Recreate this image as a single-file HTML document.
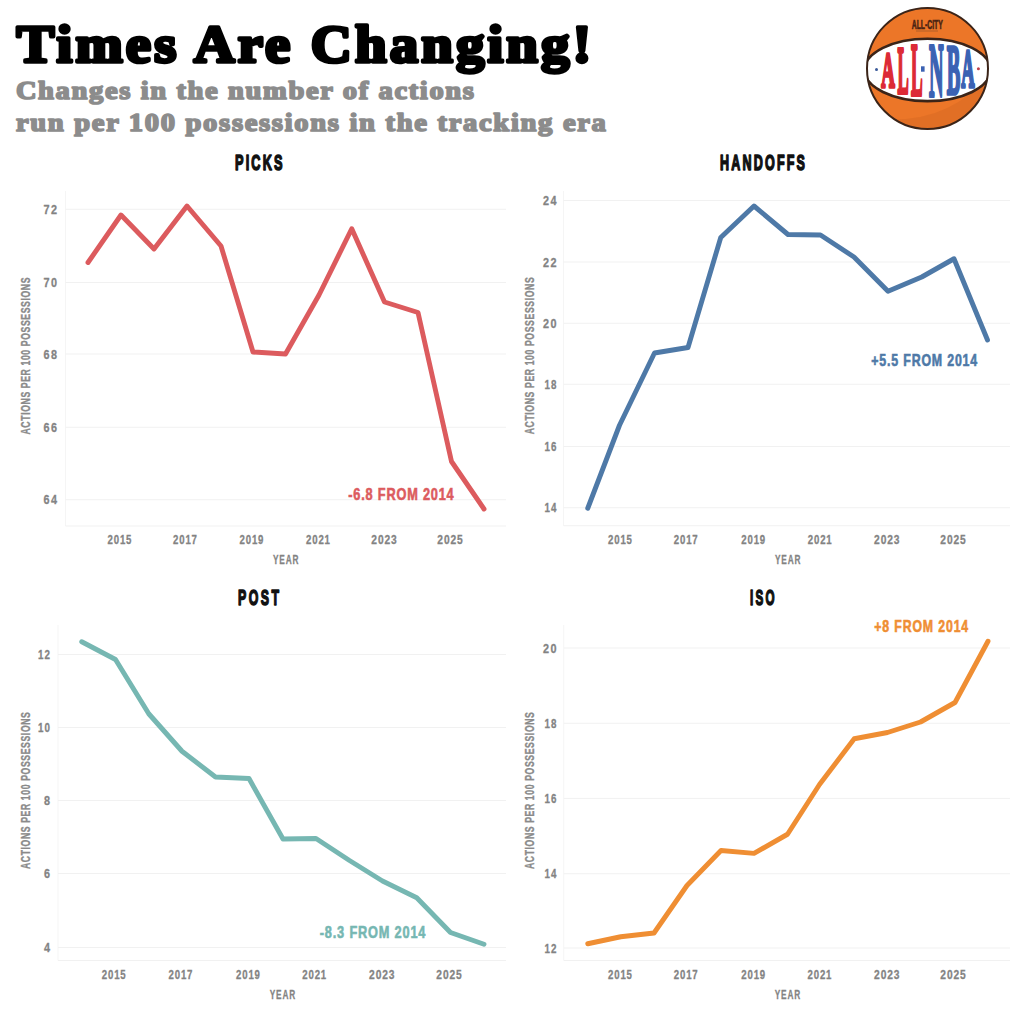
<!DOCTYPE html>
<html><head><meta charset="utf-8">
<style>
html,body{margin:0;padding:0;background:#fff;}
svg{display:block;}
.tk{font-family:"Liberation Sans", sans-serif;font-weight:bold;font-size:13.2px;fill:#838383;stroke:#838383;stroke-width:0.3px;}
.yt{font-family:"Liberation Sans", sans-serif;font-weight:bold;font-size:13.2px;fill:#8a8a8a;stroke:#8a8a8a;stroke-width:0.35px;}
.ct{font-family:"Liberation Sans", sans-serif;font-weight:bold;font-size:22.5px;fill:#111;stroke:#111;stroke-width:1.6px;stroke-linejoin:round;}
.an{font-family:"Liberation Sans", sans-serif;font-weight:bold;font-size:16.5px;stroke-width:0.6px;}
.title{font-family:"Liberation Serif", serif;font-weight:bold;}
</style></head>
<body>
<svg width="1024" height="1024" viewBox="0 0 1024 1024">
<rect width="1024" height="1024" fill="#fff"/>
<text transform="translate(16.5 61.6) scale(1.08 1)" x="0" y="0" textLength="532.41" lengthAdjust="spacing" class="title" font-size="52.5" fill="#000" stroke="#000" stroke-width="3.6" stroke-linejoin="round">Times Are Changing!</text>
<text transform="translate(15.9 98.6) scale(1.12 1)" x="0" y="0" textLength="408.93" lengthAdjust="spacing" class="title" font-size="25.5" fill="#8c8c8c" stroke="#8c8c8c" stroke-width="1.7" stroke-linejoin="round">Changes in the number of actions</text>
<text transform="translate(15.9 130.8) scale(1.12 1)" x="0" y="0" textLength="526.79" lengthAdjust="spacing" class="title" font-size="25.5" fill="#8c8c8c" stroke="#8c8c8c" stroke-width="1.7" stroke-linejoin="round">run per 100 possessions in the tracking era</text>

<g>
  <defs><clipPath id="ball"><circle cx="927.5" cy="68.4" r="60.5"/></clipPath></defs>
  <circle cx="927.5" cy="68.4" r="60.5" fill="#ec7628"/>
  <g clip-path="url(#ball)">
    <path d="M870 118 Q950 128 992 70 L992 135 L870 135 Z" fill="#d96a22" opacity="0.55"/>
    <ellipse cx="927.5" cy="69.9" rx="63" ry="31.2" fill="#ffffff" stroke="#3b2418" stroke-width="2.6"/>
  </g>
  <circle cx="927.5" cy="68.4" r="60.5" fill="none" stroke="#3b2418" stroke-width="2"/>
  <text x="927.3" y="28.7" text-anchor="middle" textLength="31" lengthAdjust="spacingAndGlyphs" font-family="Liberation Sans, sans-serif" font-weight="bold" font-size="12" fill="#4a2414" stroke="#4a2414" stroke-width="0.6">ALL-CITY</text>
  <rect x="916" y="30.5" width="22" height="1" fill="#7a4a2a" opacity="0.5"/>
  <text transform="translate(881.31 87.30) scale(0.1889 0.5000)" x="0" y="0" font-family="Liberation Serif, serif" font-weight="bold" font-size="100" fill="#dc2a36" stroke="#dc2a36" stroke-width="6.97" stroke-linejoin="round">A</text>
<text transform="translate(897.61 92.60) scale(0.1680 0.6687)" x="0" y="0" font-family="Liberation Serif, serif" font-weight="bold" font-size="100" fill="#dc2a36" stroke="#dc2a36" stroke-width="5.74" stroke-linejoin="round">L</text>
<text transform="translate(910.90 95.00) scale(0.1746 0.7405)" x="0" y="0" font-family="Liberation Serif, serif" font-weight="bold" font-size="100" fill="#dc2a36" stroke="#dc2a36" stroke-width="5.25" stroke-linejoin="round">L</text>
<text transform="translate(929.02 95.70) scale(0.2017 0.7618)" x="0" y="0" font-family="Liberation Serif, serif" font-weight="bold" font-size="100" fill="#3b62b3" stroke="#3b62b3" stroke-width="4.98" stroke-linejoin="round">N</text>
<text transform="translate(946.86 94.00) scale(0.2029 0.7160)" x="0" y="0" font-family="Liberation Serif, serif" font-weight="bold" font-size="100" fill="#3b62b3" stroke="#3b62b3" stroke-width="5.22" stroke-linejoin="round">B</text>
<text transform="translate(961.32 87.30) scale(0.1847 0.5409)" x="0" y="0" font-family="Liberation Serif, serif" font-weight="bold" font-size="100" fill="#3b62b3" stroke="#3b62b3" stroke-width="6.62" stroke-linejoin="round">A</text>
  <rect x="921" y="66.3" width="3.6" height="5.4" fill="#3b62b3"/>
  <circle cx="876.5" cy="69.5" r="1.5" fill="#3b5a9a"/>
  <circle cx="978.4" cy="68.8" r="1.5" fill="#c0404a"/>
</g>

<line x1="65.5" y1="191" x2="65.5" y2="526" stroke="#f5f5f5" stroke-width="1"/>
<line x1="65.5" y1="526" x2="506" y2="526" stroke="#f1f1f1" stroke-width="1"/>
<line x1="65.5" y1="209.25" x2="506" y2="209.25" stroke="#f1f1f1" stroke-width="1"/>
<text transform="translate(57.00 213.75) scale(0.8215 1)" x="0" y="0" text-anchor="end" textLength="16.31" lengthAdjust="spacing" class="tk" >72</text>
<line x1="65.5" y1="282.5" x2="506" y2="282.5" stroke="#f1f1f1" stroke-width="1"/>
<text transform="translate(57.00 287.00) scale(0.8215 1)" x="0" y="0" text-anchor="end" textLength="16.31" lengthAdjust="spacing" class="tk" >70</text>
<line x1="65.5" y1="354" x2="506" y2="354" stroke="#f1f1f1" stroke-width="1"/>
<text transform="translate(57.00 358.50) scale(0.8215 1)" x="0" y="0" text-anchor="end" textLength="16.31" lengthAdjust="spacing" class="tk" >68</text>
<line x1="65.5" y1="427.25" x2="506" y2="427.25" stroke="#f1f1f1" stroke-width="1"/>
<text transform="translate(57.00 431.75) scale(0.8215 1)" x="0" y="0" text-anchor="end" textLength="16.31" lengthAdjust="spacing" class="tk" >66</text>
<line x1="65.5" y1="499.75" x2="506" y2="499.75" stroke="#f1f1f1" stroke-width="1"/>
<text transform="translate(57.00 504.25) scale(0.8215 1)" x="0" y="0" text-anchor="end" textLength="16.31" lengthAdjust="spacing" class="tk" >64</text>
<text transform="translate(119.50 543.90) scale(0.7295 1)" x="0" y="0" text-anchor="middle" textLength="32.62" lengthAdjust="spacing" class="tk" >2015</text>
<text transform="translate(185.00 543.90) scale(0.7295 1)" x="0" y="0" text-anchor="middle" textLength="32.62" lengthAdjust="spacing" class="tk" >2017</text>
<text transform="translate(251.50 543.90) scale(0.7295 1)" x="0" y="0" text-anchor="middle" textLength="32.62" lengthAdjust="spacing" class="tk" >2019</text>
<text transform="translate(318.00 543.90) scale(0.7295 1)" x="0" y="0" text-anchor="middle" textLength="32.62" lengthAdjust="spacing" class="tk" >2021</text>
<text transform="translate(384.00 543.90) scale(0.7755 1)" x="0" y="0" text-anchor="middle" textLength="32.62" lengthAdjust="spacing" class="tk" >2023</text>
<text transform="translate(450.00 543.90) scale(0.7755 1)" x="0" y="0" text-anchor="middle" textLength="32.62" lengthAdjust="spacing" class="tk" >2025</text>
<text transform="translate(285.75 564.40) scale(0.6258 1)" x="0" y="0" text-anchor="middle" textLength="40.75" lengthAdjust="spacing" class="tk" >YEAR</text>
<text transform="translate(29.6 356) rotate(-90) scale(0.6574 1)" x="0" y="0" text-anchor="middle" textLength="238.81" lengthAdjust="spacing" class="yt">ACTIONS PER 100 POSSESSIONS</text>
<text transform="translate(258.75 170.20) scale(0.5664 1)" x="0" y="0" text-anchor="middle" textLength="83.86" lengthAdjust="spacing" class="ct" >PICKS</text>
<path d="M88.00 262.50 L121.00 215.00 L154.00 249.00 L187.00 206.00 L221.00 246.00 L253.00 352.00 L285.50 354.00 L319.00 295.00 L351.75 228.75 L384.50 302.00 L418.00 312.50 L451.50 461.50 L484.00 509.00" fill="none" stroke="#dc5b5e" stroke-width="4.9" stroke-linejoin="round" stroke-linecap="round"/>
<text transform="translate(348.30 500.00) scale(0.7720 1)" x="0" y="0" text-anchor="start" textLength="136.52" lengthAdjust="spacing" class="an" fill="#dc5b5e" stroke="#dc5b5e">-6.8 FROM 2014</text><line x1="563.5" y1="191" x2="563.5" y2="525.75" stroke="#f5f5f5" stroke-width="1"/>
<line x1="563.5" y1="525.75" x2="1010" y2="525.75" stroke="#f1f1f1" stroke-width="1"/>
<line x1="563.5" y1="200.5" x2="1010" y2="200.5" stroke="#f1f1f1" stroke-width="1"/>
<text transform="translate(556.50 205.00) scale(0.8215 1)" x="0" y="0" text-anchor="end" textLength="16.31" lengthAdjust="spacing" class="tk" >24</text>
<line x1="563.5" y1="262" x2="1010" y2="262" stroke="#f1f1f1" stroke-width="1"/>
<text transform="translate(556.50 266.50) scale(0.8215 1)" x="0" y="0" text-anchor="end" textLength="16.31" lengthAdjust="spacing" class="tk" >22</text>
<line x1="563.5" y1="323.25" x2="1010" y2="323.25" stroke="#f1f1f1" stroke-width="1"/>
<text transform="translate(556.50 327.75) scale(0.8215 1)" x="0" y="0" text-anchor="end" textLength="16.31" lengthAdjust="spacing" class="tk" >20</text>
<line x1="563.5" y1="384.25" x2="1010" y2="384.25" stroke="#f1f1f1" stroke-width="1"/>
<text transform="translate(556.50 388.75) scale(0.7418 1)" x="0" y="0" text-anchor="end" textLength="16.31" lengthAdjust="spacing" class="tk" >18</text>
<line x1="563.5" y1="446.5" x2="1010" y2="446.5" stroke="#f1f1f1" stroke-width="1"/>
<text transform="translate(556.50 451.00) scale(0.7418 1)" x="0" y="0" text-anchor="end" textLength="16.31" lengthAdjust="spacing" class="tk" >16</text>
<line x1="563.5" y1="507.75" x2="1010" y2="507.75" stroke="#f1f1f1" stroke-width="1"/>
<text transform="translate(556.50 512.25) scale(0.7418 1)" x="0" y="0" text-anchor="end" textLength="16.31" lengthAdjust="spacing" class="tk" >14</text>
<text transform="translate(620.00 543.90) scale(0.7295 1)" x="0" y="0" text-anchor="middle" textLength="32.62" lengthAdjust="spacing" class="tk" >2015</text>
<text transform="translate(685.75 543.90) scale(0.7295 1)" x="0" y="0" text-anchor="middle" textLength="32.62" lengthAdjust="spacing" class="tk" >2017</text>
<text transform="translate(753.25 543.90) scale(0.7295 1)" x="0" y="0" text-anchor="middle" textLength="32.62" lengthAdjust="spacing" class="tk" >2019</text>
<text transform="translate(819.75 543.90) scale(0.7295 1)" x="0" y="0" text-anchor="middle" textLength="32.62" lengthAdjust="spacing" class="tk" >2021</text>
<text transform="translate(886.75 543.90) scale(0.7755 1)" x="0" y="0" text-anchor="middle" textLength="32.62" lengthAdjust="spacing" class="tk" >2023</text>
<text transform="translate(953.00 543.90) scale(0.7755 1)" x="0" y="0" text-anchor="middle" textLength="32.62" lengthAdjust="spacing" class="tk" >2025</text>
<text transform="translate(787.75 564.40) scale(0.6258 1)" x="0" y="0" text-anchor="middle" textLength="40.75" lengthAdjust="spacing" class="tk" >YEAR</text>
<text transform="translate(533.8 355.8) rotate(-90) scale(0.6574 1)" x="0" y="0" text-anchor="middle" textLength="238.81" lengthAdjust="spacing" class="yt">ACTIONS PER 100 POSSESSIONS</text>
<text transform="translate(762.50 170.20) scale(0.5576 1)" x="0" y="0" text-anchor="middle" textLength="152.43" lengthAdjust="spacing" class="ct" >HANDOFFS</text>
<path d="M587.75 508.25 L619.50 425.25 L654.50 353.00 L688.00 347.50 L720.75 237.50 L754.00 206.00 L788.00 234.50 L820.50 235.00 L854.00 257.00 L888.00 291.25 L921.75 277.00 L954.00 258.75 L987.50 340.00" fill="none" stroke="#4e79a7" stroke-width="4.9" stroke-linejoin="round" stroke-linecap="round"/>
<text transform="translate(871.30 365.75) scale(0.7504 1)" x="0" y="0" text-anchor="start" textLength="141.13" lengthAdjust="spacing" class="an" fill="#4e79a7" stroke="#4e79a7">+5.5 FROM 2014</text><line x1="58" y1="625" x2="58" y2="960.5" stroke="#f5f5f5" stroke-width="1"/>
<line x1="58" y1="960.5" x2="506" y2="960.5" stroke="#f1f1f1" stroke-width="1"/>
<line x1="58" y1="654.5" x2="506" y2="654.5" stroke="#f1f1f1" stroke-width="1"/>
<text transform="translate(50.00 659.00) scale(0.7418 1)" x="0" y="0" text-anchor="end" textLength="16.31" lengthAdjust="spacing" class="tk" >12</text>
<line x1="58" y1="727.5" x2="506" y2="727.5" stroke="#f1f1f1" stroke-width="1"/>
<text transform="translate(50.00 732.00) scale(0.7418 1)" x="0" y="0" text-anchor="end" textLength="16.31" lengthAdjust="spacing" class="tk" >10</text>
<line x1="58" y1="800.5" x2="506" y2="800.5" stroke="#f1f1f1" stroke-width="1"/>
<text transform="translate(50.00 805.00) scale(0.8215 1)" x="0" y="0" text-anchor="end" textLength="8.16" lengthAdjust="spacing" class="tk" >8</text>
<line x1="58" y1="873.5" x2="506" y2="873.5" stroke="#f1f1f1" stroke-width="1"/>
<text transform="translate(50.00 878.00) scale(0.8215 1)" x="0" y="0" text-anchor="end" textLength="8.16" lengthAdjust="spacing" class="tk" >6</text>
<line x1="58" y1="947.5" x2="506" y2="947.5" stroke="#f1f1f1" stroke-width="1"/>
<text transform="translate(50.00 952.00) scale(0.8215 1)" x="0" y="0" text-anchor="end" textLength="8.16" lengthAdjust="spacing" class="tk" >4</text>
<text transform="translate(113.75 978.90) scale(0.7295 1)" x="0" y="0" text-anchor="middle" textLength="32.62" lengthAdjust="spacing" class="tk" >2015</text>
<text transform="translate(180.50 978.90) scale(0.7295 1)" x="0" y="0" text-anchor="middle" textLength="32.62" lengthAdjust="spacing" class="tk" >2017</text>
<text transform="translate(248.00 978.90) scale(0.7295 1)" x="0" y="0" text-anchor="middle" textLength="32.62" lengthAdjust="spacing" class="tk" >2019</text>
<text transform="translate(314.25 978.90) scale(0.7295 1)" x="0" y="0" text-anchor="middle" textLength="32.62" lengthAdjust="spacing" class="tk" >2021</text>
<text transform="translate(381.75 978.90) scale(0.7755 1)" x="0" y="0" text-anchor="middle" textLength="32.62" lengthAdjust="spacing" class="tk" >2023</text>
<text transform="translate(449.00 978.90) scale(0.7755 1)" x="0" y="0" text-anchor="middle" textLength="32.62" lengthAdjust="spacing" class="tk" >2025</text>
<text transform="translate(282.50 998.90) scale(0.6258 1)" x="0" y="0" text-anchor="middle" textLength="40.75" lengthAdjust="spacing" class="tk" >YEAR</text>
<text transform="translate(29.6 790.6) rotate(-90) scale(0.6574 1)" x="0" y="0" text-anchor="middle" textLength="238.81" lengthAdjust="spacing" class="yt">ACTIONS PER 100 POSSESSIONS</text>
<text transform="translate(258.50 605.20) scale(0.5488 1)" x="0" y="0" text-anchor="middle" textLength="74.71" lengthAdjust="spacing" class="ct" >POST</text>
<path d="M81.75 641.75 L115.50 659.50 L148.75 713.75 L182.00 751.25 L215.50 777.00 L249.00 778.50 L283.00 839.00 L316.00 838.50 L349.50 860.50 L382.50 881.00 L416.75 897.75 L450.50 932.50 L484.00 944.25" fill="none" stroke="#76b7b2" stroke-width="4.9" stroke-linejoin="round" stroke-linecap="round"/>
<text transform="translate(319.80 938.25) scale(0.7739 1)" x="0" y="0" text-anchor="start" textLength="136.52" lengthAdjust="spacing" class="an" fill="#76b7b2" stroke="#76b7b2">-8.3 FROM 2014</text><line x1="563.75" y1="625" x2="563.75" y2="960.5" stroke="#f5f5f5" stroke-width="1"/>
<line x1="563.75" y1="960.5" x2="1010" y2="960.5" stroke="#f1f1f1" stroke-width="1"/>
<line x1="563.75" y1="648" x2="1010" y2="648" stroke="#f1f1f1" stroke-width="1"/>
<text transform="translate(556.50 652.50) scale(0.8215 1)" x="0" y="0" text-anchor="end" textLength="16.31" lengthAdjust="spacing" class="tk" >20</text>
<line x1="563.75" y1="723.25" x2="1010" y2="723.25" stroke="#f1f1f1" stroke-width="1"/>
<text transform="translate(556.50 727.75) scale(0.7418 1)" x="0" y="0" text-anchor="end" textLength="16.31" lengthAdjust="spacing" class="tk" >18</text>
<line x1="563.75" y1="798.4" x2="1010" y2="798.4" stroke="#f1f1f1" stroke-width="1"/>
<text transform="translate(556.50 802.90) scale(0.7418 1)" x="0" y="0" text-anchor="end" textLength="16.31" lengthAdjust="spacing" class="tk" >16</text>
<line x1="563.75" y1="873.75" x2="1010" y2="873.75" stroke="#f1f1f1" stroke-width="1"/>
<text transform="translate(556.50 878.25) scale(0.7418 1)" x="0" y="0" text-anchor="end" textLength="16.31" lengthAdjust="spacing" class="tk" >14</text>
<line x1="563.75" y1="948" x2="1010" y2="948" stroke="#f1f1f1" stroke-width="1"/>
<text transform="translate(556.50 952.50) scale(0.7418 1)" x="0" y="0" text-anchor="end" textLength="16.31" lengthAdjust="spacing" class="tk" >12</text>
<text transform="translate(620.00 978.90) scale(0.7295 1)" x="0" y="0" text-anchor="middle" textLength="32.62" lengthAdjust="spacing" class="tk" >2015</text>
<text transform="translate(685.75 978.90) scale(0.7295 1)" x="0" y="0" text-anchor="middle" textLength="32.62" lengthAdjust="spacing" class="tk" >2017</text>
<text transform="translate(753.25 978.90) scale(0.7295 1)" x="0" y="0" text-anchor="middle" textLength="32.62" lengthAdjust="spacing" class="tk" >2019</text>
<text transform="translate(819.50 978.90) scale(0.7295 1)" x="0" y="0" text-anchor="middle" textLength="32.62" lengthAdjust="spacing" class="tk" >2021</text>
<text transform="translate(886.75 978.90) scale(0.7755 1)" x="0" y="0" text-anchor="middle" textLength="32.62" lengthAdjust="spacing" class="tk" >2023</text>
<text transform="translate(953.00 978.90) scale(0.7755 1)" x="0" y="0" text-anchor="middle" textLength="32.62" lengthAdjust="spacing" class="tk" >2025</text>
<text transform="translate(787.50 998.90) scale(0.6258 1)" x="0" y="0" text-anchor="middle" textLength="40.75" lengthAdjust="spacing" class="tk" >YEAR</text>
<text transform="translate(533.8 790.6) rotate(-90) scale(0.6574 1)" x="0" y="0" text-anchor="middle" textLength="238.81" lengthAdjust="spacing" class="yt">ACTIONS PER 100 POSSESSIONS</text>
<text transform="translate(762.25 605.40) scale(0.5183 1)" x="0" y="0" text-anchor="middle" textLength="47.27" lengthAdjust="spacing" class="ct" >ISO</text>
<path d="M587.75 943.75 L620.75 936.75 L654.00 933.00 L687.00 885.50 L721.00 850.50 L754.00 853.40 L787.50 834.25 L819.50 784.50 L854.25 738.75 L887.50 732.50 L920.50 722.00 L955.00 702.50 L988.00 641.25" fill="none" stroke="#ef8e33" stroke-width="4.9" stroke-linejoin="round" stroke-linecap="round"/>
<text transform="translate(874.30 632.00) scale(0.7462 1)" x="0" y="0" text-anchor="start" textLength="125.84" lengthAdjust="spacing" class="an" fill="#ef8e33" stroke="#ef8e33">+8 FROM 2014</text>
</svg>
</body></html>
